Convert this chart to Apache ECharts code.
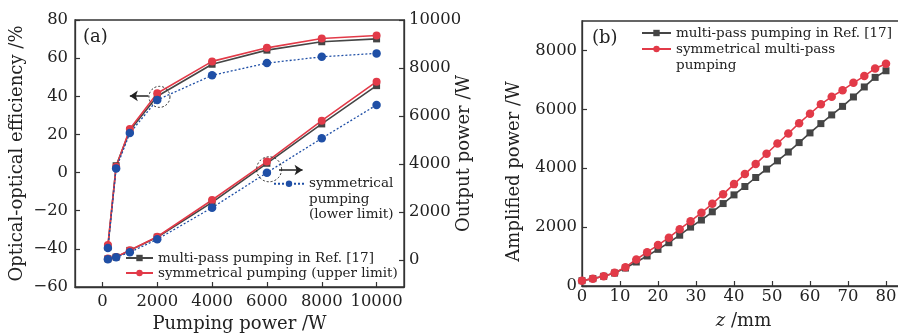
<!DOCTYPE html>
<html><head><meta charset="utf-8">
<script src="https://cdn.jsdelivr.net/npm/echarts@6/dist/echarts.min.js"></script>
<style>html,body{margin:0;padding:0;background:#fff}#c{width:898px;height:333px}</style>
</head><body><div id="c"></div>
<script>
// ---- data (a) ----
const pumpPower = [200, 500, 1000, 2000, 4000, 6000, 8000, 10000];
const effRef   = [-39, 3.6, 22, 40, 56.8, 64.2, 68.6, 70.1];
const effUpper = [-38, 3, 22.8, 41.6, 58.3, 65.4, 70.3, 71.9];
const effLower = [-39.5, 2.2, 20.7, 38.1, 51, 57.4, 60.7, 62.5];
const powRef   = [50, 120, 400, 950, 2400, 4030, 5670, 7265];
const powUpper = [60, 130, 410, 970, 2500, 4100, 5805, 7430];
const powLower = [30, 110, 320, 860, 2180, 3640, 5070, 6460];
// ---- data (b) ----
const zPos = [0, 2.86, 5.71, 8.57, 11.43, 14.29, 17.14, 20, 22.86, 25.71, 28.57, 31.43, 34.29, 37.14, 40, 42.86, 45.71, 48.57, 51.43, 54.29, 57.14, 60, 62.86, 65.71, 68.57, 71.43, 74.29, 77.14, 80];
const ampRef = [180, 250, 330, 440, 610, 815, 1020, 1245, 1470, 1725, 2000, 2240, 2520, 2800, 3095, 3380, 3685, 3970, 4250, 4550, 4870, 5200, 5515, 5810, 6100, 6420, 6760, 7085, 7310];
const ampSym = [180, 250, 330, 450, 640, 900, 1150, 1390, 1640, 1930, 2200, 2485, 2790, 3120, 3460, 3800, 4140, 4490, 4840, 5180, 5530, 5850, 6170, 6430, 6650, 6900, 7130, 7390, 7550];
// ---- tick labels ----
const pumpTicks = [0, 2000, 4000, 6000, 8000, 10000];
const effTicks = [-60, -40, -20, 0, 20, 40, 60, 80];
const powTicks = [0, 2000, 4000, 6000, 8000, 10000];
const zTicks = [0, 10, 20, 30, 40, 50, 60, 70, 80];
const ampTicks = [0, 2000, 4000, 6000, 8000];
// ---- annotations (data coords) ----
const circleEff = [2080, 39.7];
const arrowEff = [[1680, 40.2], [1000, 40.2]];
const circlePow = [6080, 3780];
const arrowPow = [[6440, 3750], [7300, 3750]];

const NAME_REF = 'multi-pass pumping in Ref. [17]';
const NAME_UP = 'symmetrical pumping (upper limit)';
const NAME_LOW = 'symmetrical pumping (lower limit)';
const NAME_SYM = 'symmetrical multi-pass pumping';

const FONT = 'DejaVu Serif';
const C_BLK = '#454545', C_RED = '#e23a48', C_BLUE = '#1f4fa6', C_AX = '#333';
const zip = (a, b) => a.map((v, i) => [v, b[i]]);
const plain = v => String(v).replace('-', '\u2212');

const axisCommon = {
  axisLine: {show: true, onZero: false, lineStyle: {color: C_AX, width: 1.3}},
  axisTick: {show: true, inside: true, length: 5, lineStyle: {color: C_AX, width: 1.2}},
  splitLine: {show: false},
  axisLabel: {fontFamily: FONT, fontSize: 16.4, color: '#222', formatter: plain},
  nameTextStyle: {fontFamily: FONT, fontSize: 18, color: '#222'},
  nameLocation: 'middle',
  nameMoveOverlap: false
};
function ax(extra) {
  const o = {};
  for (const k in axisCommon) o[k] = (typeof axisCommon[k] === 'object') ? Object.assign({}, axisCommon[k]) : axisCommon[k];
  o.axisLabel.formatter = plain;
  for (const k in extra) {
    if (typeof extra[k] === 'object' && !Array.isArray(extra[k]) && o[k]) Object.assign(o[k], extra[k]);
    else o[k] = extra[k];
  }
  return o;
}

const chart = echarts.init(document.getElementById('c'), null, {renderer: 'canvas'});
const lineSeries = (name, xi, yi, data, color, symbol, size, dotted) => ({
  name, type: 'line', xAxisIndex: xi, yAxisIndex: yi, data,
  symbol, symbolSize: size, showSymbol: true,
  itemStyle: {color},
  lineStyle: {color, width: dotted ? 1.3 : 1.6, type: dotted ? [2, 2] : 'solid'},
  animation: false
});

const s = [
  lineSeries(NAME_REF, 0, 0, zip(pumpPower, effRef), C_BLK, 'rect', 7),
  lineSeries(NAME_REF, 0, 1, zip(pumpPower, powRef), C_BLK, 'rect', 7),
  lineSeries(NAME_UP, 0, 0, zip(pumpPower, effUpper), C_RED, 'circle', 8),
  lineSeries(NAME_UP, 0, 1, zip(pumpPower, powUpper), C_RED, 'circle', 8),
  lineSeries(NAME_LOW, 0, 0, zip(pumpPower, effLower), C_BLUE, 'circle', 8.5, true),
  lineSeries(NAME_LOW, 0, 1, zip(pumpPower, powLower), C_BLUE, 'circle', 8.5, true),
  lineSeries(NAME_REF, 1, 2, zip(zPos, ampRef), C_BLK, 'rect', 7),
  lineSeries(NAME_SYM, 1, 2, zip(zPos, ampSym), C_RED, 'circle', 8.5)
];
const circleMark = (c, size) => ({
  silent: true, animation: false,
  data: [{coord: c, symbol: 'circle', symbolSize: size,
    itemStyle: {color: 'rgba(0,0,0,0)', borderColor: '#222', borderWidth: 1, borderType: [2, 2]},
    label: {show: false}}]
});
const arrowMark = (a) => ({
  silent: true, animation: false, symbol: ['none', 'arrow'], symbolSize: 8,
  label: {show: false},
  lineStyle: {color: '#222', width: 1.5, type: 'solid'},
  data: [[{coord: a[0]}, {coord: a[1]}]]
});
s[2].markPoint = circleMark(circleEff, 21);
s[2].markLine = arrowMark(arrowEff);
s[3].markPoint = circleMark(circlePow, 25);
s[3].markLine = arrowMark(arrowPow);

const legTxt = {fontFamily: FONT, fontSize: 13.5, color: '#222', lineHeight: 15};

chart.setOption({
  animation: false,
  backgroundColor: '#fff',
  grid: [
    {left: 75, top: 20, width: 329, height: 267, show: true, borderColor: C_AX, borderWidth: 1.3,
      backgroundColor: 'transparent', containLabel: false, outerBoundsMode: 'none'},
    {left: 582, top: 21, width: 323, height: 265, show: true, borderColor: C_AX, borderWidth: 1.3,
      backgroundColor: 'transparent', containLabel: false, outerBoundsMode: 'none'}
  ],
  xAxis: [
    ax({type: 'value', gridIndex: 0, min: -1000, max: 11000,
      axisLabel: {customValues: pumpTicks, margin: 7}, axisTick: {customValues: pumpTicks},
      name: 'Pumping power /W', nameGap: 28}),
    ax({type: 'value', gridIndex: 1, min: 0, max: 85,
      axisLabel: {customValues: zTicks, margin: 3}, axisTick: {customValues: zTicks},
      name: '{i|z} /mm', nameGap: 26,
      nameTextStyle: {rich: {i: {fontFamily: FONT, fontSize: 18, fontStyle: 'italic', color: '#222'}}}})
  ],
  yAxis: [
    ax({type: 'value', gridIndex: 0, position: 'left', min: -60, max: 80, interval: 20,
      axisLabel: {margin: 7},
      name: 'Optical-optical efficiency /%', nameGap: 49}),
    ax({type: 'value', gridIndex: 0, position: 'right', min: -1125, max: 10000,
      axisLabel: {customValues: powTicks, margin: 5}, axisTick: {customValues: powTicks},
      name: 'Output power /W', nameGap: 51}),
    ax({type: 'value', gridIndex: 1, position: 'left', min: 0, max: 9000,
      axisLabel: {customValues: ampTicks, margin: 5}, axisTick: {customValues: ampTicks},
      name: 'Amplified power /W', nameGap: 59,
      nameTextStyle: {padding: [0, 36, 0, 0]}})
  ],
  legend: [
    {data: [NAME_REF, NAME_UP], orient: 'vertical', left: 125, top: 250.5, padding: 0,
      itemWidth: 27, itemHeight: 8, itemGap: 0, textStyle: legTxt, selectedMode: false},
    {data: [NAME_LOW], orient: 'vertical', left: 273, top: 145, padding: 0,
      itemWidth: 30, itemHeight: 8, itemGap: 0, selectedMode: false,
      formatter: () => '\n\nsymmetrical\npumping\n(lower limit)',
      textStyle: Object.assign({}, legTxt, {lineHeight: 15.5})},
    {data: [NAME_REF], orient: 'vertical', left: 641, top: 25.5, padding: 0,
      itemWidth: 29, itemHeight: 8, itemGap: 0, textStyle: legTxt, selectedMode: false},
    {data: [NAME_SYM], orient: 'vertical', left: 641, top: 25, padding: 0,
      itemWidth: 29, itemHeight: 8, itemGap: 0, selectedMode: false,
      formatter: () => '\nsymmetrical multi-pass\npumping',
      textStyle: Object.assign({}, legTxt, {lineHeight: 16})}
  ],
  graphic: [
    {type: 'text', left: 83, top: 28, style: {text: '(a)', fontFamily: FONT, fontSize: 18, fill: '#222'}},
    {type: 'text', left: 592, top: 29, style: {text: '(b)', fontFamily: FONT, fontSize: 18, fill: '#222'}}
  ],
  series: s
});
</script>
</body></html>
